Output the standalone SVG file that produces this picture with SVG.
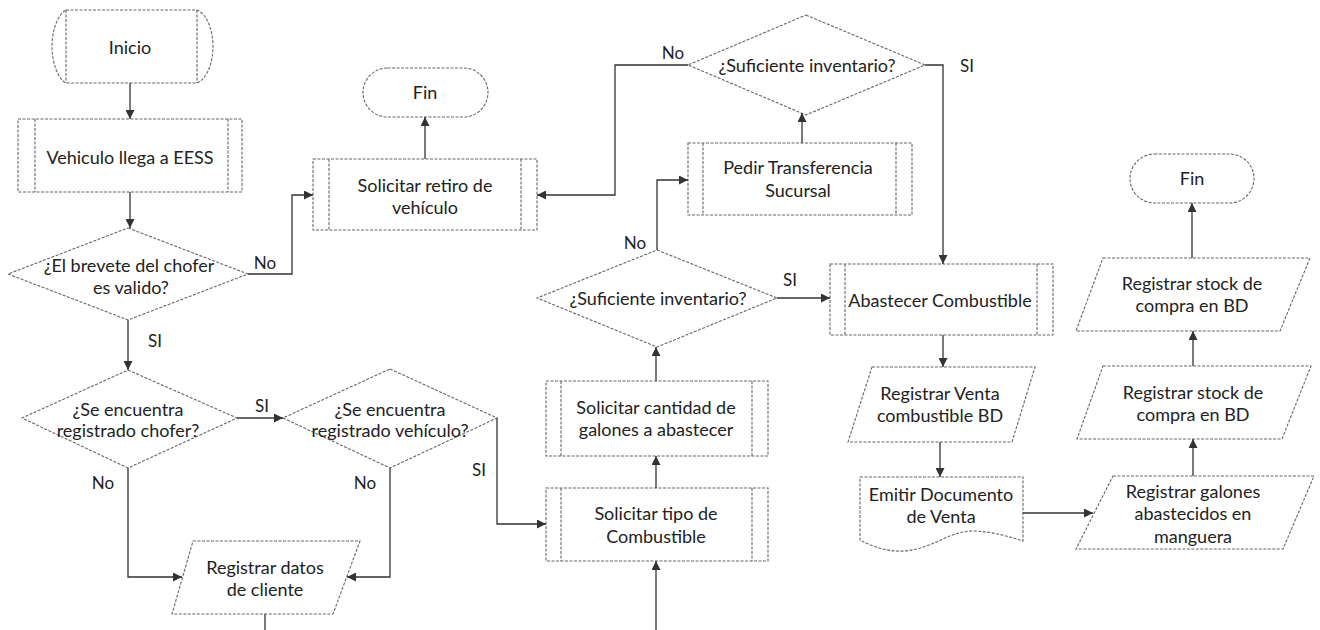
<svg xmlns="http://www.w3.org/2000/svg" width="1320" height="630" viewBox="0 0 1320 630">
<style>
.s{fill:#fff;stroke:#666;stroke-width:1.1;stroke-dasharray:3 1.5}
.in{fill:none;stroke:#666;stroke-width:1.1;stroke-dasharray:3 1.5}
.c{fill:none;stroke:#333;stroke-width:1.3}
.t{font-family:Lato,"Liberation Sans",sans-serif;font-size:18px;fill:#222;text-anchor:middle;dominant-baseline:central}
.l{font-family:Lato,"Liberation Sans",sans-serif;font-size:17px;fill:#222;text-anchor:middle;dominant-baseline:central}
</style>
<defs>
<marker id="a" viewBox="0 0 10 10" refX="10" refY="5" markerWidth="9" markerHeight="9" markerUnits="userSpaceOnUse" orient="auto">
<path d="M0,0 L10,5 L0,10 Z" fill="#333"/>
</marker>
</defs>
<rect width="1320" height="630" fill="#fff"/>

<g id="inicio">
<path class="s" d="M66,10 L197,10 C207,14 213,30 213,46.5 C213,63 207,79 197,83 L66,83 C58,79 52,63 52,46.5 C52,30 58,14 66,10 Z"/>
<path class="in" d="M66,10 V83 M197,10 V83"/>
<text class="t" x="130" y="47">Inicio</text>
</g>

<g id="vehiculo-llega">
<rect class="s" x="18" y="119" width="224" height="73"/>
<path class="in" d="M35,119 V192 M228,119 V192"/>
<text class="t" x="130" y="157">Vehiculo llega a EESS</text>
</g>

<g id="brevete-valido">
<polygon class="s" points="128,228 248,274 128,320 8,274"/>
<text class="t" x="129" y="265">¿El brevete del chofer</text>
<text class="t" x="131" y="287">es valido?</text>
</g>

<g id="solicitar-retiro">
<rect class="s" x="313" y="159" width="224" height="71"/>
<path class="in" d="M329,159 V230 M521,159 V230"/>
<text class="t" x="425" y="185">Solicitar retiro de</text>
<text class="t" x="425" y="207">vehículo</text>
</g>

<g id="fin-1">
<rect class="s" x="363" y="68" width="125" height="49" rx="24.5" ry="24.5"/>
<text class="t" x="425" y="92">Fin</text>
</g>

<g id="chofer-registrado">
<polygon class="s" points="128,370 237,418 128,468 22,418"/>
<text class="t" x="128" y="409">¿Se encuentra</text>
<text class="t" x="128" y="430">registrado chofer?</text>
</g>

<g id="vehiculo-registrado">
<polygon class="s" points="390,369 497,418 390,468 283,418"/>
<text class="t" x="390" y="409">¿Se encuentra</text>
<text class="t" x="390" y="430">registrado vehículo?</text>
</g>

<g id="registrar-datos">
<polygon class="s" points="193,541 360,541 333,614 172,614"/>
<text class="t" x="265" y="567">Registrar datos</text>
<text class="t" x="265" y="589">de cliente</text>
</g>

<g id="solicitar-tipo">
<rect class="s" x="546" y="488" width="222" height="73"/>
<path class="in" d="M561,488 V561 M752,488 V561"/>
<text class="t" x="656" y="513">Solicitar tipo de</text>
<text class="t" x="656" y="536">Combustible</text>
</g>

<g id="solicitar-cantidad">
<rect class="s" x="546" y="381" width="222" height="75"/>
<path class="in" d="M561,381 V456 M752,381 V456"/>
<text class="t" x="656" y="407">Solicitar cantidad de</text>
<text class="t" x="656" y="429">galones a abastecer</text>
</g>

<g id="inventario-1">
<polygon class="s" points="657,250 777,298 657,347 537,298"/>
<text class="t" x="658" y="298">¿Suficiente inventario?</text>
</g>

<g id="pedir-transferencia">
<rect class="s" x="688" y="143" width="224" height="72"/>
<path class="in" d="M703,143 V215 M896,143 V215"/>
<text class="t" x="798" y="167">Pedir Transferencia</text>
<text class="t" x="798" y="190">Sucursal</text>
</g>

<g id="inventario-2">
<polygon class="s" points="806,15 925,65 806,115 688,65"/>
<text class="t" x="807" y="65">¿Suficiente inventario?</text>
</g>

<g id="abastecer">
<rect class="s" x="830" y="264" width="223" height="71"/>
<path class="in" d="M845,264 V335 M1037,264 V335"/>
<text class="t" x="940" y="300">Abastecer Combustible</text>
</g>

<g id="registrar-venta">
<polygon class="s" points="872,367 1035,367 1012,442 848,442"/>
<text class="t" x="940" y="393">Registrar Venta</text>
<text class="t" x="940" y="415">combustible BD</text>
</g>

<g id="emitir-documento">
<path class="s" d="M860,477 H1023 V541 C1010,537 995,532 975,531 C950,530 935,548 905,551 C890,552 875,548 860,540 Z"/>
<text class="t" x="941" y="494">Emitir Documento</text>
<text class="t" x="941" y="516">de Venta</text>
</g>

<g id="registrar-galones">
<polygon class="s" points="1113,476 1314,476 1283,549 1076,549"/>
<text class="t" x="1193" y="491">Registrar galones</text>
<text class="t" x="1193" y="513">abastecidos en</text>
<text class="t" x="1193" y="536">manguera</text>
</g>

<g id="registrar-stock-1">
<polygon class="s" points="1103,366 1311,366 1282,439 1077,439"/>
<text class="t" x="1193" y="392">Registrar stock de</text>
<text class="t" x="1193" y="414">compra en BD</text>
</g>

<g id="registrar-stock-2">
<polygon class="s" points="1103,258 1310,258 1280,331 1076,331"/>
<text class="t" x="1192" y="283">Registrar stock de</text>
<text class="t" x="1192" y="305">compra en BD</text>
</g>

<g id="fin-2">
<rect class="s" x="1130" y="154" width="124" height="49" rx="24.5" ry="24.5"/>
<text class="t" x="1192" y="178">Fin</text>
</g>

<g id="connectors">
<path class="c" marker-end="url(#a)" d="M130,83 V119"/>
<path class="c" marker-end="url(#a)" d="M130,192 V228"/>
<path class="c" marker-end="url(#a)" d="M248,274 H292 V195 H313"/>
<path class="c" marker-end="url(#a)" d="M425,159 V117"/>
<path class="c" marker-end="url(#a)" d="M128,320 V370"/>
<path class="c" marker-end="url(#a)" d="M237,418 H283"/>
<path class="c" marker-end="url(#a)" d="M128,468 V577 H182"/>
<path class="c" marker-end="url(#a)" d="M390,468 V577 H347"/>
<path class="c" d="M265,614 V630"/>
<path class="c" marker-end="url(#a)" d="M497,418 V524 H546"/>
<path class="c" marker-end="url(#a)" d="M656,630 V561"/>
<path class="c" marker-end="url(#a)" d="M656,488 V456"/>
<path class="c" marker-end="url(#a)" d="M656,381 V347"/>
<path class="c" marker-end="url(#a)" d="M657,250 V180 H688"/>
<path class="c" marker-end="url(#a)" d="M777,298 H830"/>
<path class="c" marker-end="url(#a)" d="M802,143 V113"/>
<path class="c" marker-end="url(#a)" d="M688,65 H615 V195 H537"/>
<path class="c" marker-end="url(#a)" d="M925,65 H943 V264"/>
<path class="c" marker-end="url(#a)" d="M943,335 V367"/>
<path class="c" marker-end="url(#a)" d="M940,442 V477"/>
<path class="c" marker-end="url(#a)" d="M1023,513 H1093"/>
<path class="c" marker-end="url(#a)" d="M1193,476 V439"/>
<path class="c" marker-end="url(#a)" d="M1193,366 V331"/>
<path class="c" marker-end="url(#a)" d="M1192,258 V203"/>
<text class="l" x="265" y="262">No</text>
<text class="l" x="155" y="340">SI</text>
<text class="l" x="262" y="405">SI</text>
<text class="l" x="103" y="482">No</text>
<text class="l" x="365" y="482">No</text>
<text class="l" x="479" y="469">SI</text>
<text class="l" x="635" y="242">No</text>
<text class="l" x="790" y="279">SI</text>
<text class="l" x="673" y="52">No</text>
<text class="l" x="967" y="65">SI</text>
</g>
</svg>
